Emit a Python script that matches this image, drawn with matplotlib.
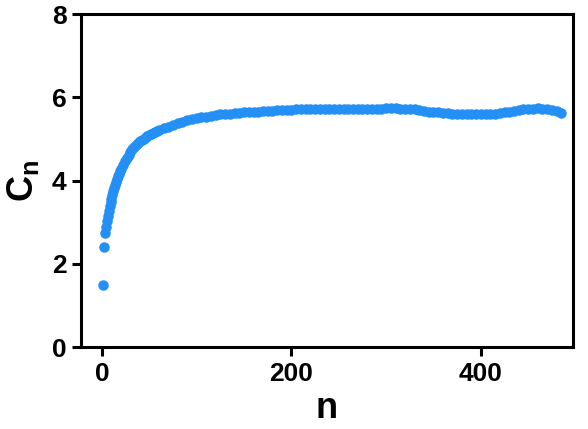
import numpy as np
import matplotlib
matplotlib.use('Agg')
import matplotlib.pyplot as plt

plt.rcParams['font.family'] = ['Liberation Sans', 'DejaVu Sans']
plt.rcParams['font.weight'] = 'bold'
plt.rcParams['mathtext.fontset'] = 'custom'
plt.rcParams['mathtext.rm'] = 'Liberation Sans:bold'
plt.rcParams['mathtext.bf'] = 'Liberation Sans:bold'
plt.rcParams['mathtext.it'] = 'Liberation Sans:bold'

n_start = list(range(1, 21))
c_start = [1.50, 2.40, 2.75, 2.88, 3.02, 3.15, 3.27, 3.38, 3.48, 3.57,
           3.66, 3.75, 3.83, 3.90, 3.97, 4.04, 4.10, 4.16, 4.22, 4.27]

n_mid = list(range(22, 61, 2))
c_mid = [4.37, 4.46, 4.54, 4.62, 4.69, 4.75, 4.81, 4.86, 4.90, 4.94,
         4.98, 5.01, 5.04, 5.07, 5.10, 5.13, 5.15, 5.17, 5.19, 5.21]

n_tail = list(range(65, 486, 5))
c_tail = [5.26, 5.30, 5.34, 5.38, 5.42, 5.45, 5.48, 5.50, 5.52, 5.54,
          5.56, 5.58, 5.59, 5.60, 5.61, 5.62, 5.63, 5.64, 5.65, 5.66,
          5.66, 5.67, 5.68, 5.68, 5.69, 5.69, 5.70, 5.70, 5.71, 5.71,
          5.71, 5.72, 5.72, 5.72, 5.72, 5.72, 5.72, 5.73, 5.73, 5.73,
          5.73, 5.73, 5.73, 5.73, 5.73, 5.73, 5.73, 5.74, 5.74, 5.74,
          5.73, 5.73, 5.72, 5.71, 5.69, 5.68, 5.66, 5.65, 5.64, 5.63,
          5.62, 5.61, 5.60, 5.60, 5.59, 5.59, 5.59, 5.59, 5.59, 5.60,
          5.61, 5.62, 5.64, 5.66, 5.68, 5.70, 5.71, 5.72, 5.73, 5.74,
          5.73, 5.72, 5.70, 5.67, 5.63]

n = np.array(n_start + n_mid + n_tail)
c = np.array(c_start + c_mid + c_tail)

fig = plt.figure(figsize=(5.88, 4.29), dpi=100)
ax = fig.add_axes([0.138, 0.191, 0.836, 0.776])

ax.scatter(n, c, s=57, color='#2490f5', linewidths=0, zorder=3)

ax.set_xlim(-22, 497)
ax.set_ylim(0, 8)
ax.set_xticks([0, 200, 400])
ax.set_yticks([0, 2, 4, 6, 8])

for sp in ax.spines.values():
    sp.set_linewidth(2.2)
ax.tick_params(width=2.2, length=6.5, labelsize=19, pad=4)

ax.set_xlabel('n', fontsize=26, fontweight='bold', labelpad=4)
ax.set_ylabel(r'$\mathrm{C_n}$', fontsize=26, labelpad=8)

fig.savefig('out.png', dpi=100)
